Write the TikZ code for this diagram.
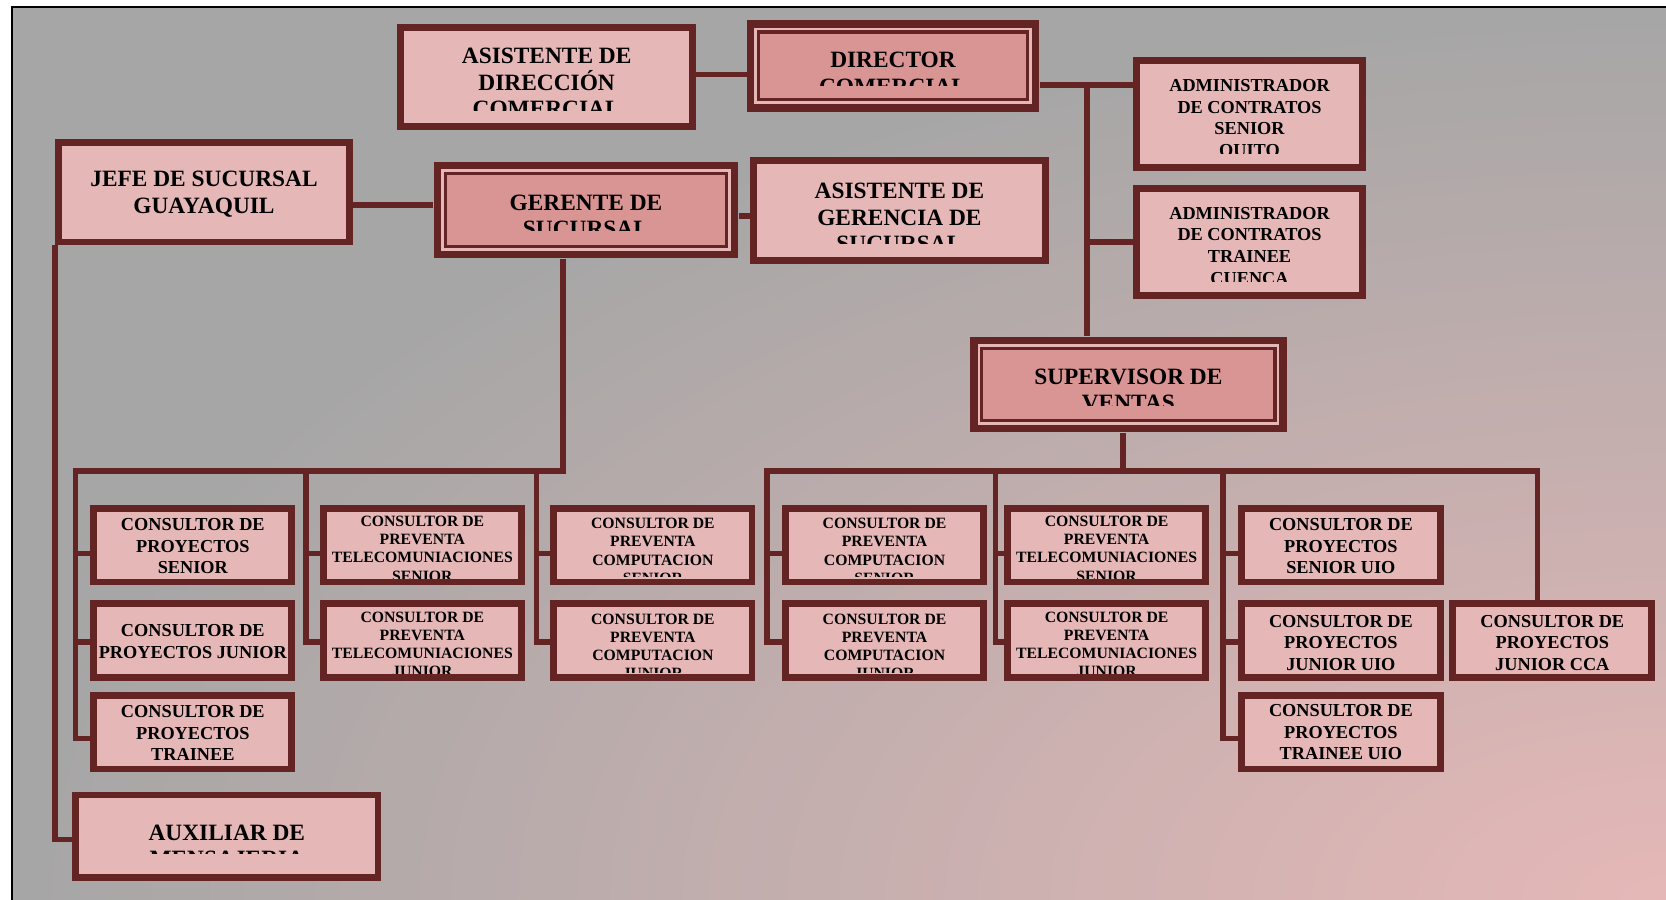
\documentclass[tikz,border=0pt]{standalone}
\usepackage{fontspec}
\setmainfont{Liberation Serif}
\usetikzlibrary{calc}

\definecolor{dk}{HTML}{632423}
\definecolor{lp}{HTML}{E5B8B7}
\definecolor{mp}{HTML}{D99594}
\definecolor{bggray}{HTML}{A6A6A6}
\definecolor{bgpink}{HTML}{E5B8B7}

% pink glow from the lower right corner, fading into grey
\pgfdeclareradialshading{cornerglow}{\pgfpoint{0bp}{0bp}}{color(0bp)=(bgpink); color(25bp)=(bggray); color(50bp)=(bggray)}

\pgfdeclarelayer{back}
\pgfdeclarelayer{bg}
\pgfsetlayers{back,bg,main}

% box from outer corners (x1,y1)-(x2,y2), border width #7 in px
\newcommand\orgbox[7]{%
  \node[#1, minimum width={(#5-#3-#7)*0.5pt}, minimum height={(#6-#4-#7)*0.5pt}]
    (#2) at ({(#3+#5)/2},{(#4+#6)/2}) {};}
% thick-thin frame of the highlighted boxes, built from nested fills
\newcommand\innerframe[1]{%
  \fill[lp] ([shift={(7.5,7.5)}]#1.north west) rectangle ([shift={(-7.5,-7.5)}]#1.south east);
  \fill[dk] ([shift={(10,10)}]#1.north west) rectangle ([shift={(-10,-10)}]#1.south east);
  \fill[mp] ([shift={(13,13)}]#1.north west) rectangle ([shift={(-13,-13)}]#1.south east);}

\tikzset{
  conn/.style={draw=dk, line width=2.7pt},
  lbox/.style={draw=dk, fill=lp, line width=3.25pt, inner sep=0pt},
  dbox/.style={fill=dk, draw=none, inner sep=0pt},
  tx/.style={anchor=north, align=center, inner sep=0pt, text=black},
  fA/.style={tx, font=\fontsize{11}{12.5}\selectfont\bfseries},
  fB/.style={tx, font=\fontsize{8.6}{10.2}\selectfont\bfseries},
  fC/.style={tx, font=\fontsize{7.4}{8.6}\selectfont\bfseries},
}

\begin{document}
\begin{tikzpicture}[x=0.5pt, y=-0.5pt]
\useasboundingbox (0,0) rectangle (1568,847);

% ---------- page background ----------
\begin{pgfonlayer}{back}
  \fill[white] (0,0) rectangle (1568,847);
  \fill[bggray] (12,7.5) rectangle (1568,847);
  \begin{scope}
    \clip (12,7.5) rectangle (1568,847);
    \shade[shading=cornerglow] (1568,847) ellipse [x radius=778pt, y radius=420pt];
  \end{scope}
  \draw[black, line width=1pt] (1568,6.5) -- (11.2,6.5) -- (11.2,847);
\end{pgfonlayer}

% ---------- boxes ----------
\orgbox{lbox}{asisdir}{374}{23}{655}{122}{6.5}
\orgbox{dbox}{director}{703}{19}{978}{105}{0}
\orgbox{lbox}{admSen}{1066}{54}{1286}{161}{6.5}
\orgbox{lbox}{admTra}{1066}{174}{1286}{281}{6.5}
\orgbox{lbox}{jefe}{52}{131}{332}{231}{6.5}
\orgbox{dbox}{gerente}{408}{152}{695}{243}{0}
\orgbox{lbox}{asisger}{706}{148}{987}{248}{6.5}
\orgbox{dbox}{supervisor}{913}{317}{1211}{407}{0}
\orgbox{lbox}{auxiliar}{68}{745}{359}{829}{6.5}
\innerframe{director}
\innerframe{gerente}
\innerframe{supervisor}

\orgbox{lbox}{p1a}{85}{475}{278}{551}{6.5}
\orgbox{lbox}{p1b}{85}{565}{278}{641}{6.5}
\orgbox{lbox}{p1c}{85}{651}{278}{727}{6.5}
\orgbox{lbox}{t1a}{301}{475}{494}{551}{6.5}
\orgbox{lbox}{t1b}{301}{565}{494}{641}{6.5}
\orgbox{lbox}{k1a}{518}{475}{711}{551}{6.5}
\orgbox{lbox}{k1b}{518}{565}{711}{641}{6.5}
\orgbox{lbox}{k2a}{736}{475}{929}{551}{6.5}
\orgbox{lbox}{k2b}{736}{565}{929}{641}{6.5}
\orgbox{lbox}{t2a}{945}{475}{1138}{551}{6.5}
\orgbox{lbox}{t2b}{945}{565}{1138}{641}{6.5}
\orgbox{lbox}{p2a}{1165}{475}{1359}{551}{6.5}
\orgbox{lbox}{p2b}{1165}{565}{1359}{641}{6.5}
\orgbox{lbox}{p2c}{1165}{651}{1359}{727}{6.5}
\orgbox{lbox}{p3b}{1364}{565}{1558}{641}{6.5}

% ---------- texts (overflowing lines are cut at the box margin) ----------
\begin{scope}\clip (374,23) rectangle (655,104);
  \node[fA] (asisdir-t) at (514.5,44.8) {ASISTENTE DE\\DIRECCIÓN\\COMERCIAL};\end{scope}
\begin{scope}\clip (703,19) rectangle (978,80);
  \node[fA] (director-t) at (840.5,48.8) {DIRECTOR\\COMERCIAL};\end{scope}
\begin{scope}\clip (1066,54) rectangle (1286,144.5);
  \node[fB] (admSen-t) at (1176,74.4) {ADMINISTRADOR\\DE CONTRATOS\\SENIOR\\QUITO};\end{scope}
\begin{scope}\clip (1066,174) rectangle (1286,264.5);
  \node[fB] (admTra-t) at (1176,194.4) {ADMINISTRADOR\\DE CONTRATOS\\TRAINEE\\CUENCA};\end{scope}
\node[fA] (jefe-t) at (192,160.8) {JEFE DE SUCURSAL\\GUAYAQUIL};
\begin{scope}\clip (408,152) rectangle (695,216.5);
  \node[fA] (gerente-t) at (551.5,182.8) {GERENTE DE\\SUCURSAL};\end{scope}
\begin{scope}\clip (706,148) rectangle (987,229);
  \node[fA] (asisger-t) at (846.5,171.8) {ASISTENTE DE\\GERENCIA DE\\SUCURSAL};\end{scope}
\begin{scope}\clip (913,317) rectangle (1211,381.5);
  \node[fA] (supervisor-t) at (1062,346.8) {SUPERVISOR DE\\VENTAS};\end{scope}
\begin{scope}\clip (68,745) rectangle (359,803.5);
  \node[fA] (auxiliar-t) at (213.5,775.8) {AUXILIAR DE\\MENSAJERIA};\end{scope}

\node[fB] (p1a-t) at (181.5,487.4) {CONSULTOR DE\\PROYECTOS\\SENIOR};
\node[fB] (p1b-t) at (181.5,587.4) {CONSULTOR DE\\PROYECTOS JUNIOR};
\node[fB] (p1c-t) at (181.5,663.4) {CONSULTOR DE\\PROYECTOS\\TRAINEE};
\begin{scope}\clip (301,475) rectangle (494,544);
  \node[fC] (t1a-t) at (397.5,485.2) {CONSULTOR DE\\PREVENTA\\TELECOMUNIACIONES\\SENIOR};\end{scope}
\begin{scope}\clip (301,565) rectangle (494,634);
  \node[fC] (t1b-t) at (397.5,575.2) {CONSULTOR DE\\PREVENTA\\TELECOMUNIACIONES\\JUNIOR};\end{scope}
\begin{scope}\clip (518,475) rectangle (711,543);
  \node[fC] (k1a-t) at (614.5,487.2) {CONSULTOR DE\\PREVENTA\\COMPUTACION\\SENIOR};\end{scope}
\begin{scope}\clip (518,565) rectangle (711,633);
  \node[fC] (k1b-t) at (614.5,577.2) {CONSULTOR DE\\PREVENTA\\COMPUTACION\\JUNIOR};\end{scope}
\begin{scope}\clip (736,475) rectangle (929,543);
  \node[fC] (k2a-t) at (832.5,487.2) {CONSULTOR DE\\PREVENTA\\COMPUTACION\\SENIOR};\end{scope}
\begin{scope}\clip (736,565) rectangle (929,633);
  \node[fC] (k2b-t) at (832.5,577.2) {CONSULTOR DE\\PREVENTA\\COMPUTACION\\JUNIOR};\end{scope}
\begin{scope}\clip (945,475) rectangle (1138,544);
  \node[fC] (t2a-t) at (1041.5,485.2) {CONSULTOR DE\\PREVENTA\\TELECOMUNIACIONES\\SENIOR};\end{scope}
\begin{scope}\clip (945,565) rectangle (1138,634);
  \node[fC] (t2b-t) at (1041.5,575.2) {CONSULTOR DE\\PREVENTA\\TELECOMUNIACIONES\\JUNIOR};\end{scope}
\node[fB] (p2a-t) at (1262,487.4) {CONSULTOR DE\\PROYECTOS\\SENIOR UIO};
\node[fB] (p2b-t) at (1262,578.4) {CONSULTOR DE\\PROYECTOS\\JUNIOR UIO};
\node[fB] (p2c-t) at (1262,662.4) {CONSULTOR DE\\PROYECTOS\\TRAINEE UIO};
\node[fB] (p3b-t) at (1461,578.4) {CONSULTOR DE\\PROYECTOS\\JUNIOR CCA};

% ---------- connectors ----------
\begin{pgfonlayer}{bg}
  \coordinate (dj) at (1023,80);
  \draw[conn] (asisdir.east |- 0,70) -- (director.west |- 0,70);
  \draw[conn] (director.east |- dj) -- (admSen.west |- dj);
  \draw[conn] (dj) -- (dj |- supervisor.north);
  \draw[conn] (dj |- 0,228) -- (admTra.west |- 0,228);
  \draw[conn] (jefe.east |- 0,193) -- (gerente.west |- 0,193);
  \draw[conn] (gerente.east |- 0,203) -- (asisger.west |- 0,203);
  \draw[conn] (jefe.south west) -- (jefe.south west |- 0,790) -- (auxiliar.west |- 0,790);

  % branch under the branch manager
  \coordinate (gJ) at (530,443);
  \coordinate (L1) at (71,443);
  \coordinate (L2) at (288,443);
  \coordinate (L3) at (505,443);
  \draw[conn] (gerente.south -| gJ) -- (gJ) -- (L1) -- (L1 |- 0,695) -- (p1c.west |- 0,695);
  \draw[conn] (L1 |- 0,521) -- (p1a.west |- 0,521);
  \draw[conn] (L1 |- 0,604) -- (p1b.west |- 0,604);
  \draw[conn] (L2) -- (L2 |- 0,604) -- (t1b.west |- 0,604);
  \draw[conn] (L2 |- 0,521) -- (t1a.west |- 0,521);
  \draw[conn] (L3) -- (L3 |- 0,604) -- (k1b.west |- 0,604);
  \draw[conn] (L3 |- 0,521) -- (k1a.west |- 0,521);

  % branch under the sales supervisor
  \coordinate (sJ) at (1057,443);
  \coordinate (R1) at (722,443);
  \coordinate (R2) at (937,443);
  \coordinate (R3) at (1151,443);
  \coordinate (R4) at (1447,443);
  \draw[conn] (supervisor.south -| sJ) -- (sJ);
  \draw[conn] (k2b.west |- 0,604) -- (R1 |- 0,604) -- (R1) -- (R4) -- (R4 |- p3b.north);
  \draw[conn] (R1 |- 0,521) -- (k2a.west |- 0,521);
  \draw[conn] (R2) -- (R2 |- 0,604) -- (t2b.west |- 0,604);
  \draw[conn] (R2 |- 0,521) -- (t2a.west |- 0,521);
  \draw[conn] (R3) -- (R3 |- 0,695) -- (p2c.west |- 0,695);
  \draw[conn] (R3 |- 0,521) -- (p2a.west |- 0,521);
  \draw[conn] (R3 |- 0,604) -- (p2b.west |- 0,604);
\end{pgfonlayer}
\end{tikzpicture}
\end{document}
